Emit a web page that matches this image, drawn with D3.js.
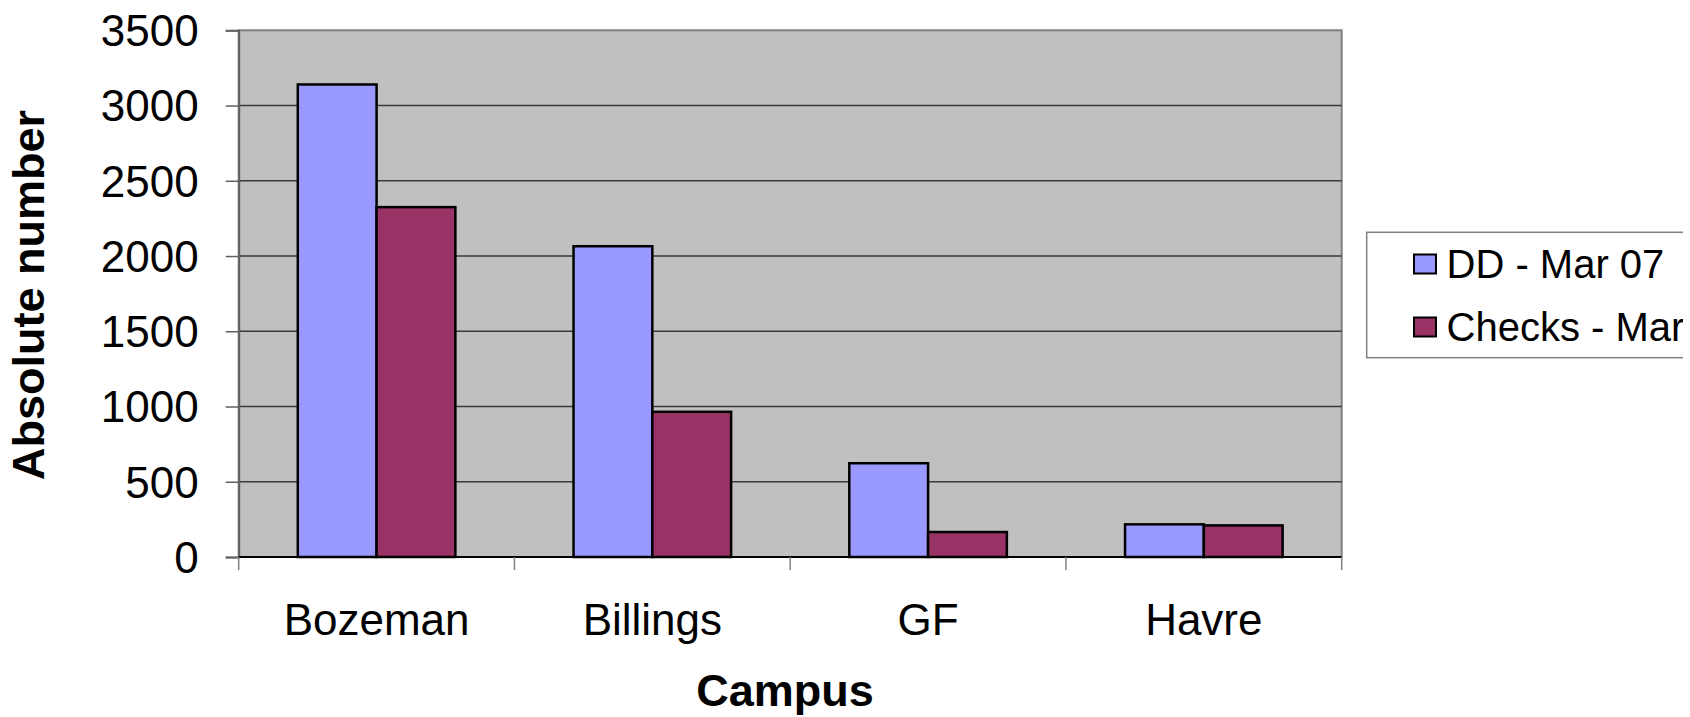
<!DOCTYPE html>
<html><head><meta charset="utf-8">
<script src="https://cdn.jsdelivr.net/npm/d3@7"></script>
<style>body{margin:0;background:#fff;overflow:hidden}svg{display:block}</style>
</head><body>
<svg id="c" width="1690" height="717"></svg>
<script>
const categories = ["Bozeman", "Billings", "GF", "Havre"];
const seriesNames = ["DD - Mar 07", "Checks - Mar 07"];
const ddValues = [3140, 2065, 623, 217];
const checksValues = [2325, 965, 166, 210];
const yTicks = [0, 500, 1000, 1500, 2000, 2500, 3000, 3500];
const colors = ["#9999FF", "#993366"];

const svg = d3.select("#c");
const L = 238.7, R = 1341.7, T = 30.3, B = 557;
const font = "'Liberation Sans', Arial, sans-serif";

svg.append("defs").append("clipPath").attr("id", "pageclip")
  .append("rect").attr("x", 0).attr("y", 0).attr("width", 1683).attr("height", 717);
const root = svg.append("g").attr("clip-path", "url(#pageclip)");

const x0 = d3.scaleBand().domain(categories).range([L, R]).paddingInner(0).paddingOuter(0);
const x1 = d3.scaleBand().domain([0, 1]).range([0, x0.bandwidth()]).paddingOuter(0.75).paddingInner(0);
const y = d3.scaleLinear().domain([0, 3500]).range([B, T]);

root.append("rect").attr("x", L).attr("y", T).attr("width", R - L).attr("height", B - T)
  .attr("fill", "#C0C0C0").attr("stroke", "#808080").attr("stroke-width", 2);

root.append("g").selectAll("line").data(yTicks.filter(d => d > 0 && d < 3500)).join("line")
  .attr("x1", L).attr("x2", R).attr("y1", d => y(d)).attr("y2", d => y(d))
  .attr("stroke", "#3a3a3a").attr("stroke-width", 1.5);

const data = categories.map((c, i) => ({c, v: [ddValues[i], checksValues[i]]}));
const g = root.append("g");
data.forEach(d => {
  d.v.forEach((v, j) => {
    g.append("rect")
      .attr("x", x0(d.c) + x1(j)).attr("y", y(v))
      .attr("width", x1.bandwidth()).attr("height", B - y(v))
      .attr("fill", colors[j]).attr("stroke", "#000").attr("stroke-width", 2.5);
  });
});

const yAxis = d3.axisLeft(y).tickValues(yTicks).tickSize(13).tickPadding(27).tickFormat(d3.format("d"));
const ya = root.append("g").attr("transform", `translate(${L},0)`).call(yAxis);
ya.select(".domain").attr("stroke", "#606060").attr("stroke-width", 2);
ya.selectAll(".tick line").attr("stroke", "#606060").attr("stroke-width", 1.5);
ya.selectAll("text").attr("font-family", font).attr("font-size", 44).attr("fill", "#000").attr("dy", "0.35em");

root.append("line").attr("x1", L).attr("x2", R).attr("y1", B).attr("y2", B).attr("stroke", "#000").attr("stroke-width", 2);
const bounds = categories.map(c => x0(c)).concat([R]);
root.append("g").selectAll("line").data(bounds).join("line")
  .attr("x1", d => d).attr("x2", d => d).attr("y1", B).attr("y2", B + 13)
  .attr("stroke", "#808080").attr("stroke-width", 1.5);
root.append("g").selectAll("text").data(categories).join("text")
  .attr("x", d => x0(d) + x0.bandwidth() / 2).attr("y", 620).attr("dy", "0.35em")
  .attr("text-anchor", "middle").attr("font-family", font).attr("font-size", 44).text(d => d);

root.append("text").attr("x", 785).attr("y", 690).attr("dy", "0.35em").attr("text-anchor", "middle")
  .attr("font-family", font).attr("font-weight", "bold").attr("font-size", 45).text("Campus");
root.append("text").attr("transform", "translate(28,295) rotate(-90)").attr("dy", "0.35em").attr("text-anchor", "middle")
  .attr("font-family", font).attr("font-weight", "bold").attr("font-size", 45).text("Absolute number");

const lg = root.append("g");
lg.append("rect").attr("x", 1366.7).attr("y", 232.3).attr("width", 400).attr("height", 125.4)
  .attr("fill", "#fff").attr("stroke", "#808080").attr("stroke-width", 1.5);
const rowY = [264, 327];
seriesNames.forEach((n, i) => {
  lg.append("rect").attr("x", 1414).attr("y", rowY[i] - 9.5).attr("width", 22).attr("height", 19)
    .attr("fill", colors[i]).attr("stroke", "#000").attr("stroke-width", 2);
  lg.append("text").attr("x", 1446.5).attr("y", rowY[i]).attr("dy", "0.35em")
    .attr("font-family", font).attr("font-size", 40).text(n);
});
</script>
</body></html>
